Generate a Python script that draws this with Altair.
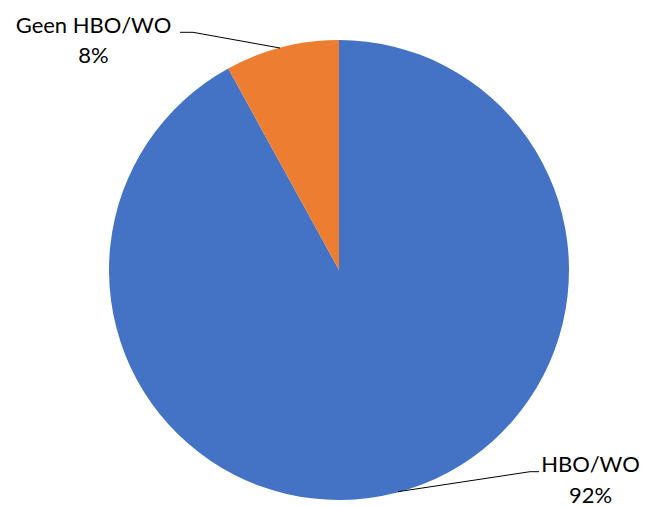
import altair as alt
import pandas as pd

categories = ["HBO/WO", "Geen HBO/WO"]
values = [92, 8]
pct_labels = ["92%", "8%"]
colors = ["#4472C4", "#ED7D31"]

df = pd.DataFrame({"cat": categories, "value": values, "pct": pct_labels,
                   "order": list(range(len(categories)))})

CX, CY, R = 331, 262, 230
FONT = "Lato"
FS = 22

base = alt.Chart(df)

pie = base.mark_arc(outerRadius=R).encode(
    theta=alt.Theta("value:Q", stack=True),
    order=alt.Order("order:Q"),
    color=alt.Color("cat:N", scale=alt.Scale(domain=categories, range=colors), legend=None),
    x=alt.value(CX), y=alt.value(CY),
)

def label(cat, x, y1, y2):
    b = base.transform_filter(alt.datum.cat == cat)
    t1 = b.mark_text(font=FONT, fontSize=FS, color="black", baseline="alphabetic", align="center").encode(
        x=alt.value(x), y=alt.value(y1), text="cat:N")
    t2 = b.mark_text(font=FONT, fontSize=FS, color="black", baseline="alphabetic", align="center").encode(
        x=alt.value(x), y=alt.value(y2), text="pct:N")
    return t1 + t2

def seg(x1, y1, x2, y2):
    return base.transform_filter(alt.datum.order == 0).mark_rule(color="black", strokeWidth=1).encode(
        x=alt.value(x1), y=alt.value(y1), x2=alt.value(x2), y2=alt.value(y2))

chart = alt.layer(
    pie,
    seg(172, 24.3, 185, 24.3), seg(185, 24.3, 272, 40),
    seg(390, 483.7, 522, 463.7), seg(522, 463.7, 531, 463.7),
    label("Geen HBO/WO", 85.5, 25, 55),
    label("HBO/WO", 582.5, 464, 495),
).properties(
    width=631, height=499, padding=0, autosize=alt.AutoSizeParams(type="none")
).configure_view(stroke=None)

chart.save("out.html", embed_options={"renderer": "svg", "actions": False})
